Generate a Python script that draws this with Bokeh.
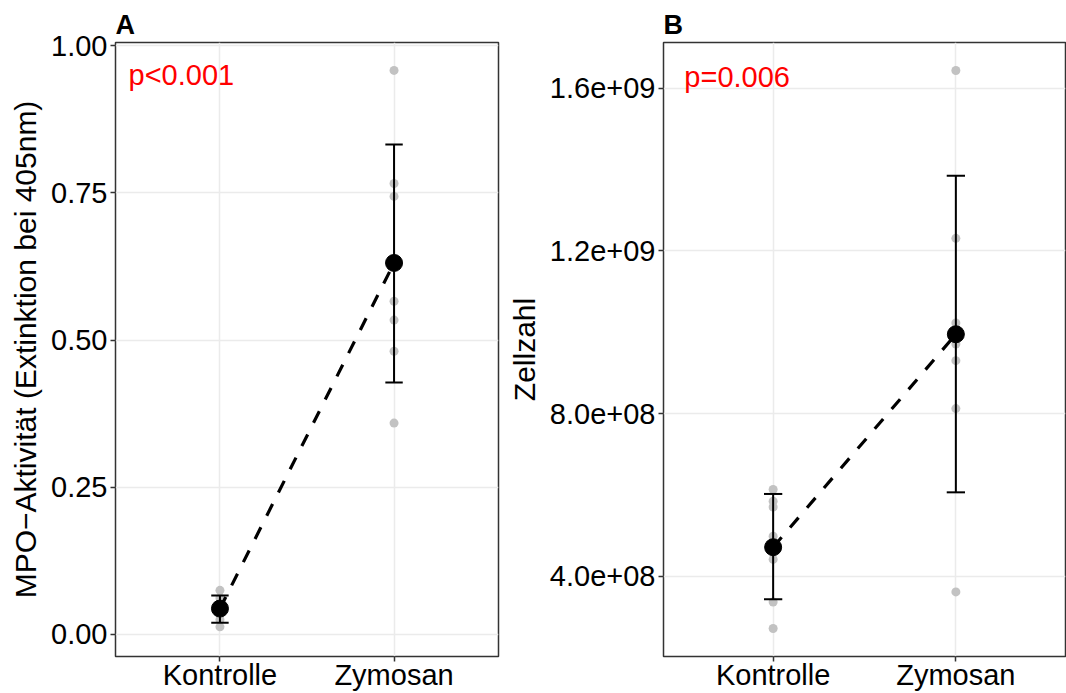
from bokeh.plotting import figure
from bokeh.layouts import row
from bokeh.models import Range1d, FixedTicker, Label, ColumnDataSource
from bokeh.embed import file_html
from bokeh.resources import INLINE

# ---------------- data ----------------
groups = ["Kontrolle", "Zymosan"]
group_pos = [1, 2]

# Panel A: MPO activity (extinction at 405 nm)
mpo_kontrolle = [0.075, 0.062, 0.050, 0.040, 0.033, 0.025, 0.013]
mpo_zymosan = [0.958, 0.766, 0.744, 0.566, 0.534, 0.481, 0.359]
mpo_mean = [0.044, 0.631]
mpo_lower = [0.020, 0.428]
mpo_upper = [0.066, 0.832]
mpo_ticks = [0.0, 0.25, 0.5, 0.75, 1.0]
mpo_tick_labels = ["0.00", "0.25", "0.50", "0.75", "1.00"]
mpo_p = "p<0.001"

# Panel B: cell count
zz_kontrolle = [6.13e8, 5.84e8, 5.70e8, 4.98e8, 4.41e8, 3.36e8, 2.71e8]
zz_zymosan = [1.644e9, 1.231e9, 1.023e9, 0.971e9, 0.930e9, 0.812e9, 0.361e9]
zz_mean = [4.71e8, 9.95e8]
zz_lower = [3.43e8, 6.06e8]
zz_upper = [6.02e8, 1.385e9]
zz_ticks = [4e8, 8e8, 1.2e9, 1.6e9]
zz_tick_labels = ["4.0e+08", "8.0e+08", "1.2e+09", "1.6e+09"]
zz_p = "p=0.006"

FONT = "Liberation Sans"
TICK_SIZE = "29px"
TITLE_SIZE = "30px"


def panel(tag, ylabel, kontrolle, zymosan, means, lower, upper, ticks, tick_labels,
          ptext, p_x, p_y, y_range, width, border_left, border_right):
    p = figure(width=width, height=693, output_backend="svg", toolbar_location=None,
               x_range=Range1d(0.4, 2.6), y_range=Range1d(*y_range),
               min_border_left=border_left, min_border_right=border_right,
               min_border_top=42, min_border_bottom=37)
    p.background_fill_color = "white"
    p.border_fill_color = "white"
    p.outline_line_color = "#333333"
    p.outline_line_width = 1.5

    # title tag
    p.title.text = tag
    p.title.text_font = FONT
    p.title.text_font_size = "27px"
    p.title.text_font_style = "bold"
    p.title.text_color = "black"
    p.title.align = "left"
    p.title.standoff = 5

    # axes
    for ax in (p.xaxis[0], p.yaxis[0]):
        ax.axis_line_color = None
        ax.major_tick_line_color = "#333333"
        ax.major_tick_line_width = 1.5
        ax.major_tick_in = 0
        ax.major_tick_out = 5
        ax.minor_tick_line_color = None
        ax.major_label_text_font = FONT
        ax.major_label_text_font_size = TICK_SIZE
        ax.major_label_text_color = "black"
    p.xaxis.major_label_standoff = -3
    p.yaxis.major_label_standoff = 3
    p.xaxis.ticker = FixedTicker(ticks=group_pos)
    p.xaxis.major_label_overrides = {pos: g for pos, g in zip(group_pos, groups)}
    p.yaxis.ticker = FixedTicker(ticks=ticks)
    p.yaxis.major_label_overrides = {t: l for t, l in zip(ticks, tick_labels)}
    p.yaxis.axis_label = ylabel
    p.yaxis.axis_label_text_font = FONT
    p.yaxis.axis_label_text_font_size = TITLE_SIZE
    p.yaxis.axis_label_text_font_style = "normal"
    p.yaxis.axis_label_text_color = "black"
    p.yaxis.axis_label_standoff = 6

    # grid
    p.xgrid.grid_line_color = "#EBEBEB"
    p.ygrid.grid_line_color = "#EBEBEB"
    p.xgrid.grid_line_width = 1.5
    p.ygrid.grid_line_width = 1.5

    # raw points
    xs = [group_pos[0]] * len(kontrolle) + [group_pos[1]] * len(zymosan)
    ys = list(kontrolle) + list(zymosan)
    p.scatter(xs, ys, size=9, color="#C2C2C2", line_color=None)

    # error bars
    src = ColumnDataSource(dict(x=group_pos, m=means, lo=lower, hi=upper,
                                xl=[g - 0.05 for g in group_pos],
                                xr=[g + 0.05 for g in group_pos]))
    p.segment(x0="x", y0="lo", x1="x", y1="hi", source=src, line_color="black", line_width=2)
    p.segment(x0="xl", y0="lo", x1="xr", y1="lo", source=src, line_color="black", line_width=2)
    p.segment(x0="xl", y0="hi", x1="xr", y1="hi", source=src, line_color="black", line_width=2)

    # dashed connecting line
    p.line(group_pos, means, line_color="black", line_width=3.2, line_dash="13 13")

    # means
    p.scatter(group_pos, means, size=17, color="black")

    # p-value label
    p.add_layout(Label(x=p_x, y=p_y, text=ptext, text_color="red", text_font=FONT,
                       text_font_size="29px", text_baseline="middle", text_align="left"))
    return p


pA = panel("A", "MPO\u2212Aktivität (Extinktion bei 405nm)", mpo_kontrolle, mpo_zymosan,
           mpo_mean, mpo_lower, mpo_upper, mpo_ticks, mpo_tick_labels,
           mpo_p, 0.475, 0.951, (-0.0374, 1.0054), 504, 115, 6)
pB = panel("B", "Zellzahl", zz_kontrolle, zz_zymosan,
           zz_mean, zz_lower, zz_upper, zz_ticks, zz_tick_labels,
           zz_p, 0.514, 1.629e9, (2.02e8, 1.713e9), 562, 158, 1)

layout = row(pA, pB)
open("out.html", "w").write(file_html(layout, INLINE))
